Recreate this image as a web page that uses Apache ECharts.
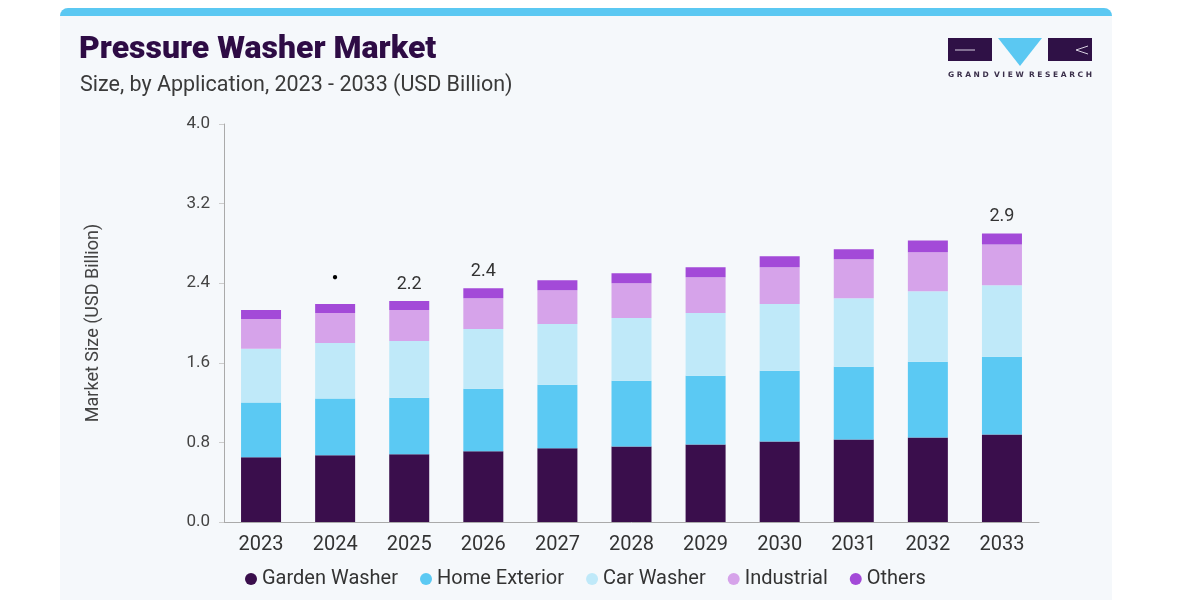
<!DOCTYPE html>
<html>
<head>
<meta charset="utf-8">
<script src="https://cdn.jsdelivr.net/npm/echarts@6/dist/echarts.min.js"></script>
<style>
html,body{margin:0;padding:0;background:#ffffff;}
#chart{width:1200px;height:600px;}
</style>
</head>
<body>
<div id="chart"></div>
<script>
var years = ['2023','2024','2025','2026','2027','2028','2029','2030','2031','2032','2033'];
var gardenWasher = [0.65, 0.67, 0.68, 0.71, 0.74, 0.76, 0.78, 0.81, 0.83, 0.85, 0.88];
var homeExterior = [0.55, 0.57, 0.57, 0.63, 0.64, 0.66, 0.69, 0.71, 0.73, 0.76, 0.78];
var carWasher    = [0.54, 0.56, 0.57, 0.60, 0.61, 0.63, 0.63, 0.67, 0.69, 0.71, 0.72];
var industrial   = [0.30, 0.30, 0.31, 0.31, 0.34, 0.35, 0.36, 0.37, 0.39, 0.39, 0.41];
var others       = [0.09, 0.09, 0.09, 0.10, 0.10, 0.10, 0.10, 0.11, 0.10, 0.12, 0.11];
var totalLabels  = ['', '\u25CF', '2.2', '2.4', '', '', '', '', '', '', '2.9'];
var yTicks = [0, 0.8, 1.6, 2.4, 3.2, 4.0];

var colors = ['#3a0e4c', '#5bc9f3', '#bfe9f9', '#d6a3ea', '#a34ad8'];
var names = ['Garden Washer', 'Home Exterior', 'Car Washer', 'Industrial', 'Others'];
var data = [gardenWasher, homeExterior, carWasher, industrial, others];

var chart = echarts.init(document.getElementById('chart'));
var series = data.map(function (d, i) {
  var s = {
    name: names[i],
    type: 'bar',
    stack: 'total',
    barWidth: 40,
    data: d,
    itemStyle: { color: colors[i] }
  };
  if (i === data.length - 1) {
    s.label = {
      show: true,
      position: 'top',
      distance: 8,
      color: '#333333',
      fontSize: 18,
      fontFamily: 'Roboto',
      formatter: function (p) {
        var t = totalLabels[p.dataIndex];
        return t === '\u25CF' ? '{dot|' + t + '}' : t;
      },
      rich: { dot: { fontSize: 10, color: '#000000', padding: [0, 0, 14, 0] } }
    };
  }
  return s;
});

chart.setOption({
  backgroundColor: '#ffffff',
  animation: false,
  graphic: [
    { type: 'rect', z: -10, shape: { x: 60, y: 8, width: 1052, height: 600, r: [8, 8, 0, 0] }, style: { fill: '#f5f8fb' } },
    { type: 'rect', z: -9, shape: { x: 60, y: 8, width: 1052, height: 8, r: [8, 8, 0, 0] }, style: { fill: '#5bc8f2' } },
    { type: 'text', left: 79, top: 34, style: { text: 'Pressure Washer Market', fill: '#2e0c45', font: '900 32px Roboto' } },
    { type: 'text', left: 80, top: 75, style: { text: 'Size, by Application, 2023 - 2033 (USD Billion)', fill: '#3a3a3a', font: '21.5px Roboto' } },
    { type: 'rect', shape: { x: 948, y: 38, width: 44, height: 23 }, style: { fill: '#2f1146' } },
    { type: 'line', shape: { x1: 955, y1: 50, x2: 975, y2: 50 }, style: { stroke: '#d8d0e0', lineWidth: 1 } },
    { type: 'polygon', shape: { points: [[998, 38], [1042, 38], [1020, 66]] }, style: { fill: '#5bc8f2' } },
    { type: 'rect', shape: { x: 1048, y: 38, width: 44, height: 23 }, style: { fill: '#2f1146' } },
    { type: 'polyline', shape: { points: [[1088, 46], [1076, 50], [1088, 54]] }, style: { stroke: '#d8d0e0', lineWidth: 1, fill: null } },
    { type: 'text', left: 948, top: 71, style: { text: 'G R A N D  V I E W  R E S E A R C H', fill: '#3a2f4a', font: 'bold 7.5px "DejaVu Sans"' } }
  ],
  grid: { left: 224, right: 161, top: 124, bottom: 78, containLabel: false },
  legend: {
    bottom: 6,
    left: 240,
    icon: 'circle',
    itemWidth: 12,
    itemHeight: 12,
    itemGap: 22,
    textStyle: { color: '#333333', fontSize: 20, fontFamily: 'Roboto' },
    data: names
  },
  xAxis: {
    type: 'category',
    data: years,
    axisLine: { lineStyle: { color: '#aaaaaa' } },
    axisTick: { show: false },
    axisLabel: { color: '#333333', fontSize: 20, fontFamily: 'Roboto', margin: 13 }
  },
  yAxis: {
    type: 'value',
    min: yTicks[0],
    max: yTicks[yTicks.length - 1],
    interval: 0.8,
    name: 'Market Size (USD Billion)',
    nameLocation: 'middle',
    nameGap: 122,
    nameTextStyle: { color: '#444444', fontSize: 18, fontFamily: 'Roboto' },
    axisLine: { show: true, lineStyle: { color: '#aaaaaa' } },
    axisTick: { show: true, length: 5, lineStyle: { color: '#cccccc' } },
    splitLine: { show: false },
    axisLabel: { color: '#444444', fontSize: 17, fontFamily: 'Roboto', margin: 14, formatter: function (v) { return v.toFixed(1); } }
  },
  series: series
});
</script>
</body>
</html>
